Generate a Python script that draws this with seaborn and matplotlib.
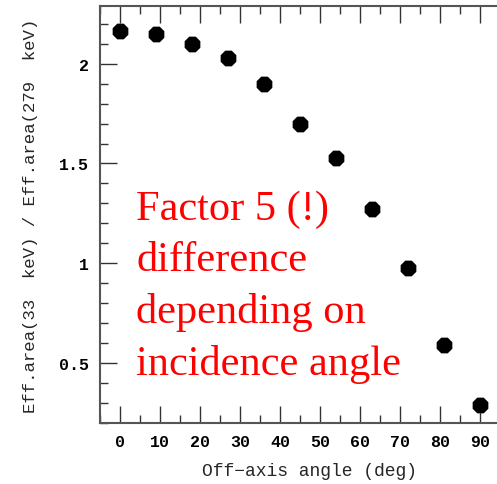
import matplotlib
matplotlib.use("Agg")
import matplotlib.pyplot as plt
import seaborn as sns
import pandas as pd
from matplotlib.ticker import MultipleLocator

angles = [0, 9, 18, 27, 36, 45, 54, 63, 72, 81, 90]
ratio = [2.165, 2.148, 2.097, 2.03, 1.90, 1.697, 1.525, 1.27, 0.977, 0.588, 0.286]
xlabel = "Off\u2212axis angle (deg)"
ylabel = "Eff.area(33  keV) / Eff.area(279  keV)"
annotation = "Factor 5 (!)\ndifference\ndepending on\nincidence angle"

sns.set_style("ticks")
plt.rcParams['font.family'] = ['Liberation Mono', 'DejaVu Sans']

df = pd.DataFrame({"angle": angles, "ratio": ratio})

fig = plt.figure(figsize=(4.97, 4.85), dpi=100)
ax = fig.add_axes([100/497, 61/485, 420/497, 417/485])
sns.scatterplot(data=df, x="angle", y="ratio", ax=ax, s=150, marker="8",
                color="black", edgecolor="black", linewidth=0, clip_on=False, zorder=3)

ax.set_xlim(-5.1, -5.1 + 420/4.1)
ax.set_ylim(0.198, 2.29)
ax.xaxis.set_minor_locator(MultipleLocator(5))
ax.yaxis.set_minor_locator(MultipleLocator(0.1))
ax.set_xticks([0, 10, 20, 30, 40, 50, 60, 70, 80, 90, 100])
ax.set_xticklabels(["0", "10", "20", "30", "40", "50", "60", "70", "80", "90", ""])
ax.set_yticks([0.5, 1.0, 1.5, 2.0])
ax.set_yticklabels(["0.5", "1", "1.5", "2"])
ax.tick_params(which="both", direction="in", top=True, right=True, color="#333333",
               width=1.0, labelsize=12, labelcolor="black")
ax.tick_params(which="major", length=12, pad=8)
ax.tick_params(which="minor", length=6)
for lab in ax.get_xticklabels() + ax.get_yticklabels():
    lab.set_fontweight("bold")
for sp in ax.spines.values():
    sp.set_color("#555555")
    sp.set_linewidth(1.5)

ax.set_xlabel(xlabel, fontsize=13, labelpad=9)
ax.set_ylabel(ylabel, fontsize=12.5, labelpad=15)

fig.text(136/497, 1 - 375/485, annotation, color="red", fontsize=30.5,
         family="Liberation Serif", va="baseline", ha="left", linespacing=1.43,
         multialignment="left")

fig.savefig("out.png", dpi=100)
